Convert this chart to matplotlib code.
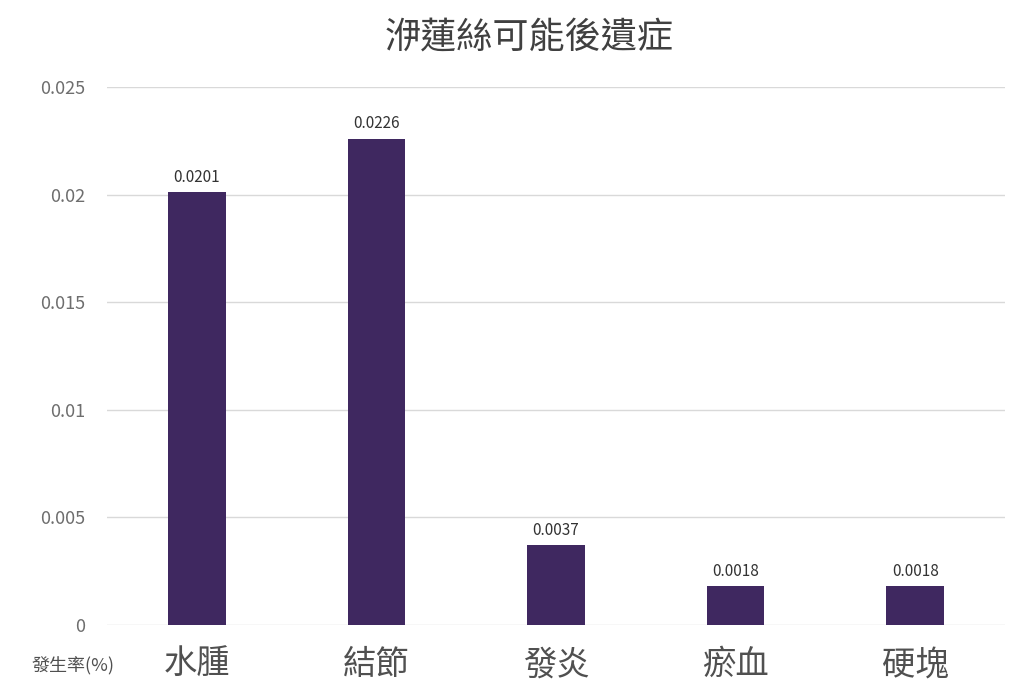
import numpy as np
import matplotlib
matplotlib.use("Agg")
from matplotlib import pyplot as plt

plt.rcParams['font.family'] = ['Noto Sans CJK TC', 'DejaVu Sans']

categories = ['水腫', '結節', '發炎', '瘀血', '硬塊']
rates = [0.0201, 0.0226, 0.0037, 0.0018, 0.0018]
yticks = [0, 0.005, 0.01, 0.015, 0.02, 0.025]
ytick_labels = ['0', '0.005', '0.01', '0.015', '0.02', '0.025']

fig = plt.figure(figsize=(10.24, 6.98), dpi=100)
ax = fig.add_axes([107/1024, 1 - 625/698, 898/1024, 538/698])

x = np.arange(len(categories))
bars = ax.bar(x, rates, width=0.32, color='#3f2860', zorder=3)
for b, v in zip(bars, rates):
    ax.text(b.get_x() + b.get_width()/2, v + 0.0003, str(v), ha='center', va='bottom',
            fontsize=11, color='#333333')

ax.set_xlim(-0.5, len(categories) - 0.5)
ax.set_ylim(0, 0.025)
ax.set_yticks(yticks)
ax.set_yticklabels(ytick_labels, fontsize=13, color='#6e6e6e')
ax.set_xticks(x)
ax.set_xticklabels(categories, fontsize=24, color='#505050')
ax.tick_params(axis='x', length=0, pad=16)
ax.tick_params(axis='y', length=0, pad=16)
ax.grid(axis='y', color='#d9d9d9', linewidth=1, zorder=0)
for s in ax.spines.values():
    s.set_visible(False)

fig.text(73/1024, 1 - 666/698, '發生率(%)', ha='center', va='center', fontsize=13, color='#505050')
fig.text(529/1024, 1 - 38/698, '洢蓮絲可能後遺症', ha='center', va='center', fontsize=26, color='#404040')

fig.savefig('out.png', dpi=100)
